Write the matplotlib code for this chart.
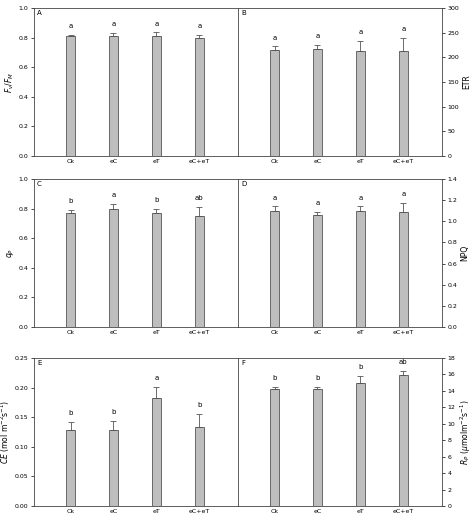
import matplotlib
matplotlib.use("Agg")
import matplotlib.pyplot as plt
import numpy as np

cats = ["Ck", "eC", "eT", "eC+eT"]
A = [0.81, 0.81, 0.81, 0.80]; Ae = [0.005, 0.02, 0.025, 0.018]; Al = ["a"]*4
B = [215, 217, 213, 212]; Be = [7, 8, 20, 28]; Bl = ["a"]*4
C = [0.77, 0.80, 0.77, 0.75]; Ce = [0.02, 0.03, 0.03, 0.06]; Cl = ["b", "a", "b", "ab"]
D = [1.10, 1.06, 1.10, 1.09]; De = [0.04, 0.03, 0.04, 0.08]; Dl = ["a"]*4
E = [0.129, 0.129, 0.182, 0.133]; Ee = [0.013, 0.014, 0.019, 0.023]; El = ["b", "b", "a", "b"]
F = [14.2, 14.2, 14.9, 15.9]; Fe = [0.3, 0.3, 0.9, 0.5]; Fl = ["b", "b", "b", "ab"]

fig = plt.figure(figsize=(4.74, 5.2), dpi=100)
W, H = 474, 520
rows = [(8, 156), (179, 327), (358, 506)]
xl, xm, xr = 34, 238, 442
panels = [
    (A, Ae, Al, "A", (0, 1.0), np.arange(0, 1.01, 0.2), r"$F_v/F_M$", "%.1f"),
    (B, Be, Bl, "B", (0, 300), np.arange(0, 301, 50), "ETR", "%d"),
    (C, Ce, Cl, "C", (0, 1.0), np.arange(0, 1.01, 0.2), r"$q_P$", "%.1f"),
    (D, De, Dl, "D", (0, 1.4), np.arange(0, 1.41, 0.2), "NPQ", "%.1f"),
    (E, Ee, El, "E", (0, 0.25), np.arange(0, 0.251, 0.05), r"$CE$ (mol m$^{-2}$s$^{-1}$)", "%.2f"),
    (F, Fe, Fl, "F", (0, 18), np.arange(0, 18.1, 2), r"$R_P$ ($\mu$molm$^{-2}$s$^{-1}$)", "%d"),
]
x = np.arange(1, 5)
for i, (v, e, l, lab, yl, yt, ylab, fmt) in enumerate(panels):
    r = i // 2; c = i % 2
    top, bot = rows[r]
    left = xl if c == 0 else xm
    right = xm if c == 0 else xr
    ax = fig.add_axes([left / W, 1 - bot / H, (right - left) / W, (bot - top) / H])
    ax.bar(x, v, width=0.2, color="#bebebe", edgecolor="#555555", linewidth=0.6)
    ax.errorbar(x, v, yerr=[np.zeros(4), e], fmt="none", ecolor="#555555",
                elinewidth=0.6, capsize=2.5, capthick=0.6)
    for xi, vi, ei, li in zip(x, v, e, l):
        ax.text(xi, vi + ei + (yl[1]) * 0.04, li, ha="center", va="bottom", fontsize=5)
    ax.set_xlim(0.15, 4.9)
    ax.set_ylim(*yl)
    ax.set_yticks(yt)
    ax.set_yticklabels([fmt % t for t in yt])
    ax.set_xticks(x)
    ax.set_xticklabels(cats)
    ax.tick_params(labelsize=4.5, length=2, width=0.5, pad=2)
    ax.tick_params(axis="x", length=0)
    for s in ax.spines.values():
        s.set_linewidth(0.6); s.set_color("#444444")
    if c == 1:
        ax.yaxis.tick_right(); ax.yaxis.set_label_position("right")
    ax.set_ylabel(ylab, fontsize=5.5, labelpad=2)
    ax.text(0.015, 0.985, lab, transform=ax.transAxes, ha="left", va="top", fontsize=5)

fig.savefig("out.png", dpi=100)
